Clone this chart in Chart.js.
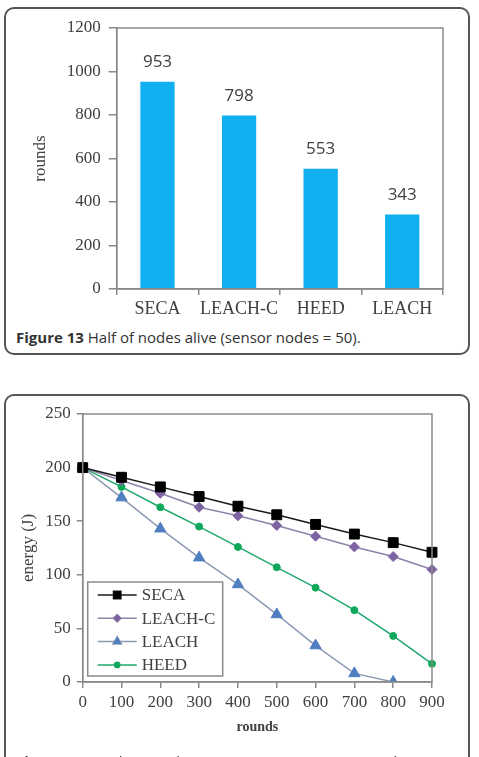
<!DOCTYPE html>
<html>
<head>
<meta charset="utf-8">
<script src="https://cdn.jsdelivr.net/npm/chart.js@4.4.1/dist/chart.umd.min.js"></script>
<style>
  html, body { margin:0; padding:0; background:#fff; width:479px; height:757px; overflow:hidden; }
  .panel { position:absolute; left:4px; width:462px; border:2px solid #555; border-radius:10px; background:#fff; }
  #p1 { top:7px; height:344px; }
  #p2 { top:394px; height:400px; }
  canvas { position:absolute; }
  .cap { position:absolute; left:16px; font-family:"Open Sans", sans-serif; font-size:15px; color:#333; white-space:nowrap; }
  .cap b { font-weight:700; }
</style>
</head>
<body>
<div class="panel" id="p1"></div>
<div class="panel" id="p2"></div>
<canvas id="barChart" style="left:4px;top:7px;" width="466" height="320"></canvas>
<canvas id="lineChart" style="left:4px;top:394px;" width="466" height="363"></canvas>
<div class="cap" style="top:327px;"><b>Figure 13</b> Half of nodes alive (sensor nodes = 50).</div>
<div class="cap" style="top:751px;"><b>Figure 14</b> Total network energy remaining (sensor nodes = 100).</div>
<script>
// ---- data ----
const protocols = ["SECA", "LEACH-C", "HEED", "LEACH"];
const halfAlive = [953, 798, 553, 343];

const roundLabels = ["0","100","200","300","400","500","600","700","800","900"];
const secaEnergy   = [200, 191, 182, 173, 164, 156, 147, 138, 130, 121];
const leachcEnergy = [200, 188, 176, 163, 155, 146, 136, 126, 117, 105];
const leachEnergy  = [200, 172, 143, 116, 91, 63, 34, 8, 0, null];
const heedEnergy   = [200, 182, 163, 145, 126, 107, 88, 67, 43, 17];

const SERIF = "'Liberation Serif', 'DejaVu Serif', serif";
const AXIS = "#8a8a8a";

Chart.defaults.animation = false;
Chart.defaults.responsive = false;
Chart.defaults.color = "#404040";

// grey box around the plot area
const frame = {
  id: "frame",
  afterDraw(chart){
    const {ctx, chartArea: a} = chart;
    ctx.save();
    ctx.strokeStyle = AXIS;
    ctx.lineWidth = 1.5;
    ctx.strokeRect(a.left, a.top, a.right - a.left, a.bottom - a.top);
    ctx.restore();
  }
};

const barValues = {
  id: "barValues",
  afterDatasetsDraw(chart){
    const ctx = chart.ctx;
    const meta = chart.getDatasetMeta(0);
    ctx.save();
    ctx.font = "17px 'Open Sans', sans-serif";
    ctx.fillStyle = "#404040";
    ctx.textAlign = "center";
    ctx.textBaseline = "bottom";
    meta.data.forEach((el, i) => {
      ctx.fillText(String(halfAlive[i]), el.x, el.y - 11);
    });
    ctx.restore();
  }
};

new Chart(document.getElementById("barChart"), {
  type: "bar",
  data: {
    labels: protocols,
    datasets: [{ data: halfAlive, backgroundColor: "#10afef", barPercentage: 0.42, categoryPercentage: 1 }]
  },
  options: {
    layout: { padding: { top: 21, right: 27, left: 0, bottom: 0 } },
    plugins: { legend: { display: false }, tooltip: { enabled: false } },
    scales: {
      x: {
        afterFit: s => { s.height = 38; },
        grid: { display: true, drawOnChartArea: false, drawTicks: true, tickLength: 6, color: AXIS, lineWidth: 1.5, offset: true },
        border: { color: AXIS, width: 1.5 },
        ticks: { font: { family: SERIF, size: 18 }, color: "#404040", padding: 3, maxRotation: 0, minRotation: 0, autoSkip: false }
      },
      y: {
        min: 0, max: 1200,
        afterFit: s => { s.width = 112.7; },
        grid: { display: true, drawOnChartArea: false, tickLength: 8, color: AXIS, lineWidth: 1.5 },
        border: { color: AXIS, width: 1.5 },
        ticks: { stepSize: 200, font: { family: SERIF, size: 17 }, color: "#404040", padding: 8, callback: v => String(v) },
        title: { display: true, text: "rounds", font: { family: SERIF, size: 17 }, color: "#404040", padding: { top: 26, bottom: 0 } }
      }
    }
  },
  plugins: [frame, barValues]
});

// legend box drawn inside the plot area, bottom-left
const boxLegend = {
  id: "boxLegend",
  afterDraw(chart){
    const {ctx, chartArea: a} = chart;
    const x0 = a.left + 5, y0 = a.bottom - 100, w = 135, h = 94;
    ctx.save();
    ctx.fillStyle = "#fff";
    ctx.fillRect(x0, y0, w, h);
    ctx.strokeStyle = AXIS;
    ctx.lineWidth = 1.5;
    ctx.strokeRect(x0, y0, w, h);
    ctx.font = "17px " + SERIF;
    ctx.textBaseline = "middle";
    chart.data.datasets.forEach((ds, i) => {
      const y = y0 + 13 + i * 23.3;
      ctx.strokeStyle = ds.borderColor;
      ctx.lineWidth = ds.borderWidth;
      ctx.beginPath();
      ctx.moveTo(x0 + 10, y);
      ctx.lineTo(x0 + 49, y);
      ctx.stroke();
      Chart.helpers.drawPoint(ctx, {
        pointStyle: ds.pointStyle, radius: ds.pointRadius * 0.75, borderWidth: 1
      }, x0 + 29.5, y);
      ctx.fillStyle = ds.pointBackgroundColor;
      ctx.strokeStyle = ds.pointBorderColor;
      ctx.fill();
      ctx.fillStyle = "#404040";
      ctx.fillText(ds.label, x0 + 54, y + 1);
    });
    ctx.restore();
  }
};

function series(label, data, line, mark, style, r){
  return {
    label, data,
    borderColor: line, borderWidth: 1.5,
    pointStyle: style, pointRadius: r,
    pointBackgroundColor: mark, pointBorderColor: mark, pointBorderWidth: 1,
    spanGaps: false
  };
}

new Chart(document.getElementById("lineChart"), {
  type: "line",
  data: {
    labels: roundLabels,
    datasets: [
      series("SECA", secaEnergy, "#1a1a1a", "#000000", "rect", 7),
      series("LEACH-C", leachcEnergy, "#8e83a8", "#7e63a3", "rectRot", 5),
      series("LEACH", leachEnergy, "#8c9ab2", "#4f7fc0", "triangle", 6.5),
      series("HEED", heedEnergy, "#1ea86c", "#10a85a", "circle", 3.5)
    ]
  },
  options: {
    layout: { padding: { top: 20, right: 38, left: 0, bottom: 0 } },
    plugins: { legend: { display: false }, tooltip: { enabled: false } },
    scales: {
      x: {
        offset: false,
        afterFit: s => { s.height = 75; },
        grid: { display: true, drawOnChartArea: false, tickLength: 6, color: AXIS, lineWidth: 1.5, offset: false },
        border: { color: AXIS, width: 1.5 },
        ticks: { font: { family: SERIF, size: 17 }, color: "#404040", padding: 4, maxRotation: 0, autoSkip: false },
        title: { display: true, text: "rounds", font: { family: SERIF, size: 14, weight: "bold" }, color: "#404040", padding: { top: 0, bottom: 21 } }
      },
      y: {
        min: 0, max: 250,
        afterFit: s => { s.width = 78.7; },
        grid: { display: true, drawOnChartArea: false, tickLength: 6, color: AXIS, lineWidth: 1.5 },
        border: { color: AXIS, width: 1.5 },
        ticks: { stepSize: 50, font: { family: SERIF, size: 17 }, color: "#404040", padding: 6 },
        title: { display: true, text: "energy (J)", font: { family: SERIF, size: 17 }, color: "#404040", padding: { top: 14, bottom: 0 } }
      }
    }
  },
  plugins: [frame, boxLegend]
});
</script>
</body>
</html>
